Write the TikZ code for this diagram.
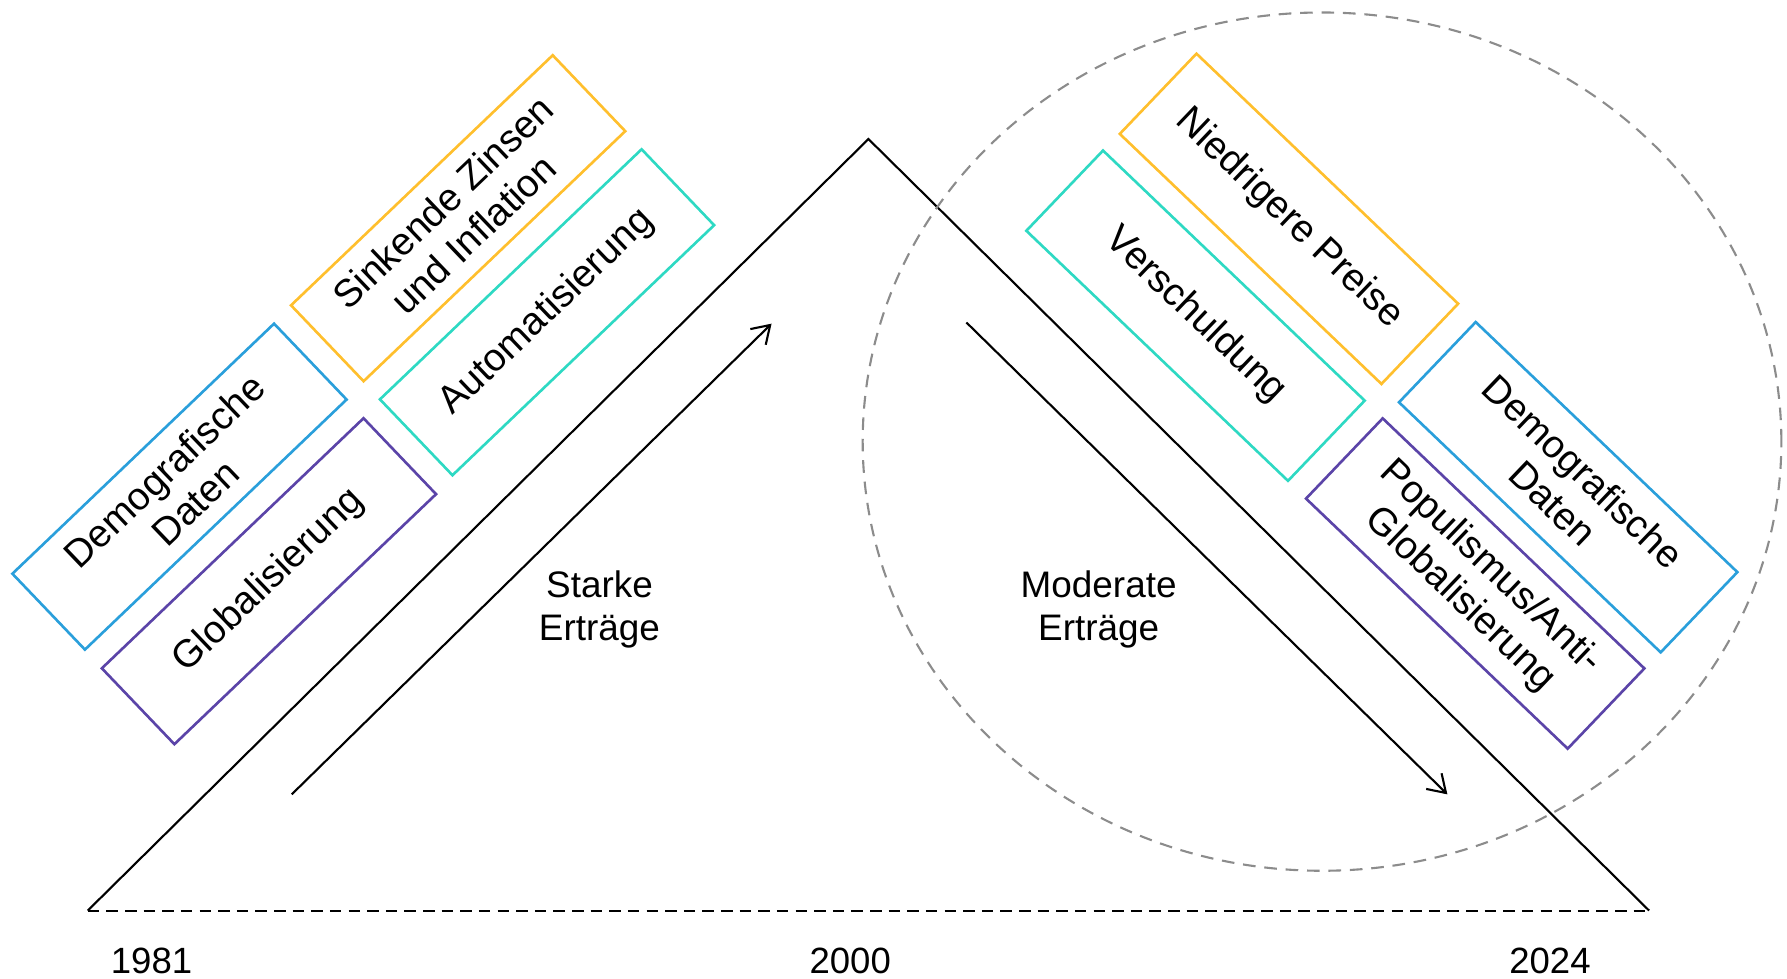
\documentclass[tikz,border=0pt]{standalone}
\usepackage{fontspec}
\setmainfont{Liberation Sans}
\usetikzlibrary{arrows.meta}
\definecolor{gelb}{HTML}{FFBF2D}
\definecolor{tuerkis}{HTML}{2ED9C3}
\definecolor{blau}{HTML}{2A9FDB}
\definecolor{lila}{HTML}{5B44A8}
\definecolor{grau}{HTML}{8C8C8C}

\begin{document}
\begin{tikzpicture}[x=0.0114cm, y=-0.0114cm]

      \tikzset{faktor/.style={draw, line width=0.75pt, minimum width=3.62cm, minimum height=1.05cm, inner sep=0pt, align=center, font=\fontsize{11}{12.6}\selectfont},
               links/.style={faktor, rotate=43.7},
               rechts/.style={faktor, rotate=-43.7, minimum height=1.11cm},
               jahr/.style={font=\fontsize{10.4}{12}\selectfont},
               ertrag/.style={align=center, font=\fontsize{10.5}{12.3}\selectfont}}
      \useasboundingbox (0,0) rectangle (1568,859);
%% Zeitachse
      	\coordinate (a) at (77,799);
      	\coordinate (b) at (762,122);
      	\coordinate (c) at (1447,799);
		\draw[line width=0.6pt] (a) -- (b) -- (c);
		\draw[line width=0.6pt, dash pattern=on 3.3pt off 2pt] (a) -- (c);
      	\node[jahr] (j1981) at (133,843) {1981};
      	\node[jahr] (j2000) at (746,843) {2000};
      	\node[jahr] (j2024) at (1360,843) {2024};
%% Kreis
		\draw[grau, line width=0.6pt, dash pattern=on 3.6pt off 2.5pt] (1160,387.5) ellipse [x radius=4.594cm, y radius=4.292cm];
%% Faktoren links
      	\node[links, draw=blau] (demoL) at (157.5,427) {Demografische\\Daten};
      	\node[links, draw=lila] (globL) at (236,510) {Globalisierung};
      	\node[links, draw=gelb] (zinsL) at (402,191.5) {Sinkende Zinsen\\und Inflation};
      	\node[links, draw=tuerkis] (autoL) at (480,274) {Automatisierung};
%% Faktoren rechts
      	\node[rechts, draw=gelb] (preisR) at (1131,192) {Niedrigere Preise};
      	\node[rechts, draw=tuerkis] (schuldR) at (1049,277) {Verschuldung};
      	\node[rechts, draw=blau] (demoR) at (1376,427.5) {Demografische\\Daten};
      	\node[rechts, draw=lila] (popR) at (1294.4,512) {Populismus/Anti-\\Globalisierung};
%% Ertraege
      	\node[ertrag] (stark) at (526,535) {Starke\\Erträge};
      	\node[ertrag] (moderat) at (964,535) {Moderate\\Erträge};
      	\coordinate (s1) at (256,697);
      	\coordinate (s2) at (677,284);
      	\coordinate (m1) at (848,283);
      	\coordinate (m2) at (1270,697);
		\path [-{Straight Barb[length=1.7mm, width=2.2mm]}, line width=0.6pt](s1) edge (s2);
		\path [-{Straight Barb[length=1.7mm, width=2.2mm]}, line width=0.6pt](m1) edge (m2);

	\end{tikzpicture}
\end{document}
